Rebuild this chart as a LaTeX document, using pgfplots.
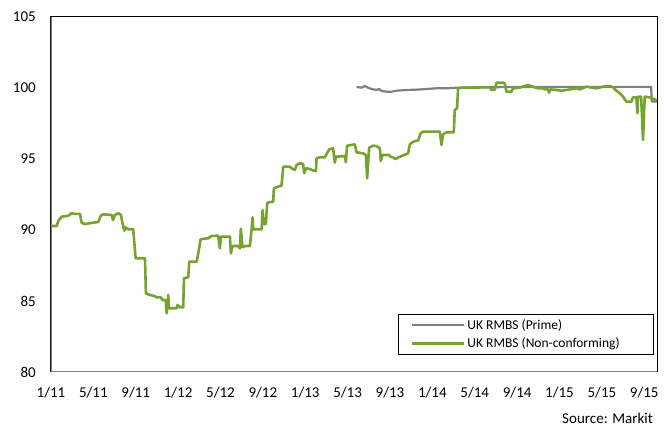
\documentclass[border=0pt]{standalone}
\usepackage{fontspec}
\setmainfont{Carlito}
\usepackage{pgfplots}
\pgfplotsset{compat=1.18}
\definecolor{ncgreen}{RGB}{118,163,48}
\definecolor{primegrey}{RGB}{128,128,128}
\begin{document}
\begin{tikzpicture}
\begin{axis}[name=ax, scale only axis, width=606pt, height=355pt,
 xmin=0, xmax=57.2, ymin=80, ymax=105,
 ytick={80,85,...,105}, xtick={0,4,...,56},
 xticklabels={1/11,5/11,9/11,1/12,5/12,9/12,1/13,5/13,9/13,1/14,5/14,9/14,1/15,5/15,9/15},
 major tick length=0pt,
 axis line style={black, line width=1pt},
 tick label style={font=\fontsize{15}{18}\selectfont, inner sep=0pt},
 /pgf/number format/assume math mode=true,
 yticklabel style={xshift=-15pt},
 xticklabel style={yshift=-15pt},
 legend style={at={(0.995,0.048)}, anchor=south east, draw=black, line width=1pt,
   font=\fontsize{13.5}{15}\selectfont, inner xsep=12pt, inner ysep=3pt, row sep=3pt},
 legend cell align=left,
 legend image code/.code={\draw[#1] (0pt,0pt) -- (52pt,0pt);},
]
\addplot[primegrey, line width=2.2pt, line join=round] coordinates {
(28.84,100.07) (29.31,100.02) (29.62,100.14) (29.93,100.02) (30.25,99.93) (30.73,99.86)
(30.97,99.93) (31.20,99.79) (31.67,99.74) (32.14,99.74) (32.61,99.81) (33.56,99.86)
(34.50,99.88) (35.44,99.93) (36.39,99.98) (37.33,99.98) (38.42,100.02) (40,100.05)
(45,100.07) (50,100.08) (56.65,100.08) (56.70,99.05) (57.2,99.05)
};
\addlegendentry{\makebox[172pt][l]{UK RMBS (Prime)}}
\addplot[ncgreen, line width=2.6pt, line join=round] coordinates {
(0.0,90.28) (0.54,90.28) (0.69,90.65) (1.01,90.94) (1.63,91.0) (1.95,91.18) (2.26,91.13)
(2.74,91.13) (2.90,90.5) (3.21,90.42) (3.84,90.5) (4.46,90.56) (4.72,91.03) (4.93,91.1)
(5.73,91.06) (5.85,90.7) (6.04,91.06) (6.35,91.18) (6.60,91.06) (6.82,90.23) (6.92,89.95)
(6.98,90.2) (7.29,90.05) (7.76,90.05) (7.92,88.6) (7.99,88.0) (8.87,88.0) (8.96,85.54)
(9.34,85.42) (9.81,85.35) (9.97,85.26) (10.38,85.26) (10.50,85.07) (10.82,85.07)
(10.92,84.13) (11.07,85.42) (11.13,84.49) (11.86,84.49) (11.95,84.72) (12.17,84.56)
(12.48,84.56) (12.55,86.6) (12.95,86.67) (13.05,87.77) (13.75,87.77) (13.90,88.35)
(14.12,89.35) (14.84,89.42) (15.16,89.58) (15.78,89.6) (15.94,88.7) (16.04,89.53)
(16.89,89.53) (16.98,88.36) (17.14,88.87) (17.67,88.87) (17.83,88.7) (17.92,90.1)
(18.08,88.78) (18.30,88.87) (18.77,88.87) (18.93,90.0) (19.03,90.9) (19.08,90.05)
(19.88,90.05) (19.97,91.4) (20.09,90.42) (20.28,90.42) (20.41,91.92) (20.97,92.0)
(21.04,92.93) (21.60,93.1) (21.76,93.1) (21.92,94.46) (22.55,94.46) (22.71,94.34)
(23.02,94.23) (23.18,94.58) (23.49,94.7) (23.80,94.65) (23.90,94.0) (24.06,94.34)
(24.43,94.3) (24.75,94.18) (25.00,94.15) (25.07,95.05) (25.38,95.12) (25.85,95.12)
(26.01,95.35) (26.26,95.68) (26.63,95.75) (26.79,94.75) (26.89,95.16) (27.74,95.21)
(27.83,94.77) (27.95,95.94) (28.68,96.03) (28.84,95.47) (29.46,95.4) (29.72,95.28)
(29.84,93.64) (30.03,95.8) (30.41,95.94) (30.73,95.9) (31.04,95.75) (31.13,94.86)
(31.29,95.28) (31.92,95.28) (32.05,95.16) (32.29,95.1) (32.52,95.0) (32.92,95.16)
(33.08,95.2) (33.71,95.4) (33.87,96.03) (34.18,96.22) (34.65,96.3) (34.88,96.8)
(35.12,96.93) (36.70,96.93) (36.86,95.99) (37.01,96.74) (37.33,96.88) (38.02,96.88)
(38.11,98.45) (38.33,98.57) (38.42,99.98) (38.75,100.02) (41.42,100.05) (41.58,99.85)
(41.89,99.9) (42.05,100.37) (42.67,100.37) (42.83,100.32) (42.99,99.74) (43.46,99.74)
(43.61,99.98) (44.25,100.02) (44.50,100.09) (45.03,100.21) (45.35,100.12) (45.66,100.05)
(45.97,99.98) (46.44,99.98) (46.60,99.9) (46.92,99.9) (47.01,99.67) (47.14,99.9)
(47.71,99.86) (48.18,99.81) (48.65,99.86) (48.96,99.9) (49.59,99.98) (49.91,99.9)
(50.54,100.09) (50.85,100.05) (51.48,99.98) (52.10,100.09) (52.74,100.14) (53.05,100.05)
(53.37,99.81) (53.68,99.63) (53.99,99.4) (54.31,99.03) (54.78,99.03) (54.93,99.34)
(55.25,99.34) (55.35,98.22) (55.41,99.39) (55.70,99.39) (55.88,96.34) (56.04,99.39)
(56.51,99.34) (56.98,99.2) (57.2,99.1)
};
\addlegendentry{\makebox[172pt][l]{UK RMBS (Non-conforming)}}
\draw[primegrey, line width=2.2pt] (rel axis cs:0,1) -- (rel axis cs:0,0) -- (rel axis cs:1,0);
\end{axis}
\node[anchor=east, font=\fontsize{15}{18}\selectfont, inner sep=0pt] at ([xshift=-4pt, yshift=-46pt]ax.south east) {Source: Markit};
\path ([xshift=-51pt,yshift=-55pt]ax.south west) rectangle ([xshift=8pt,yshift=17pt]ax.north east);
\end{tikzpicture}
\end{document}
